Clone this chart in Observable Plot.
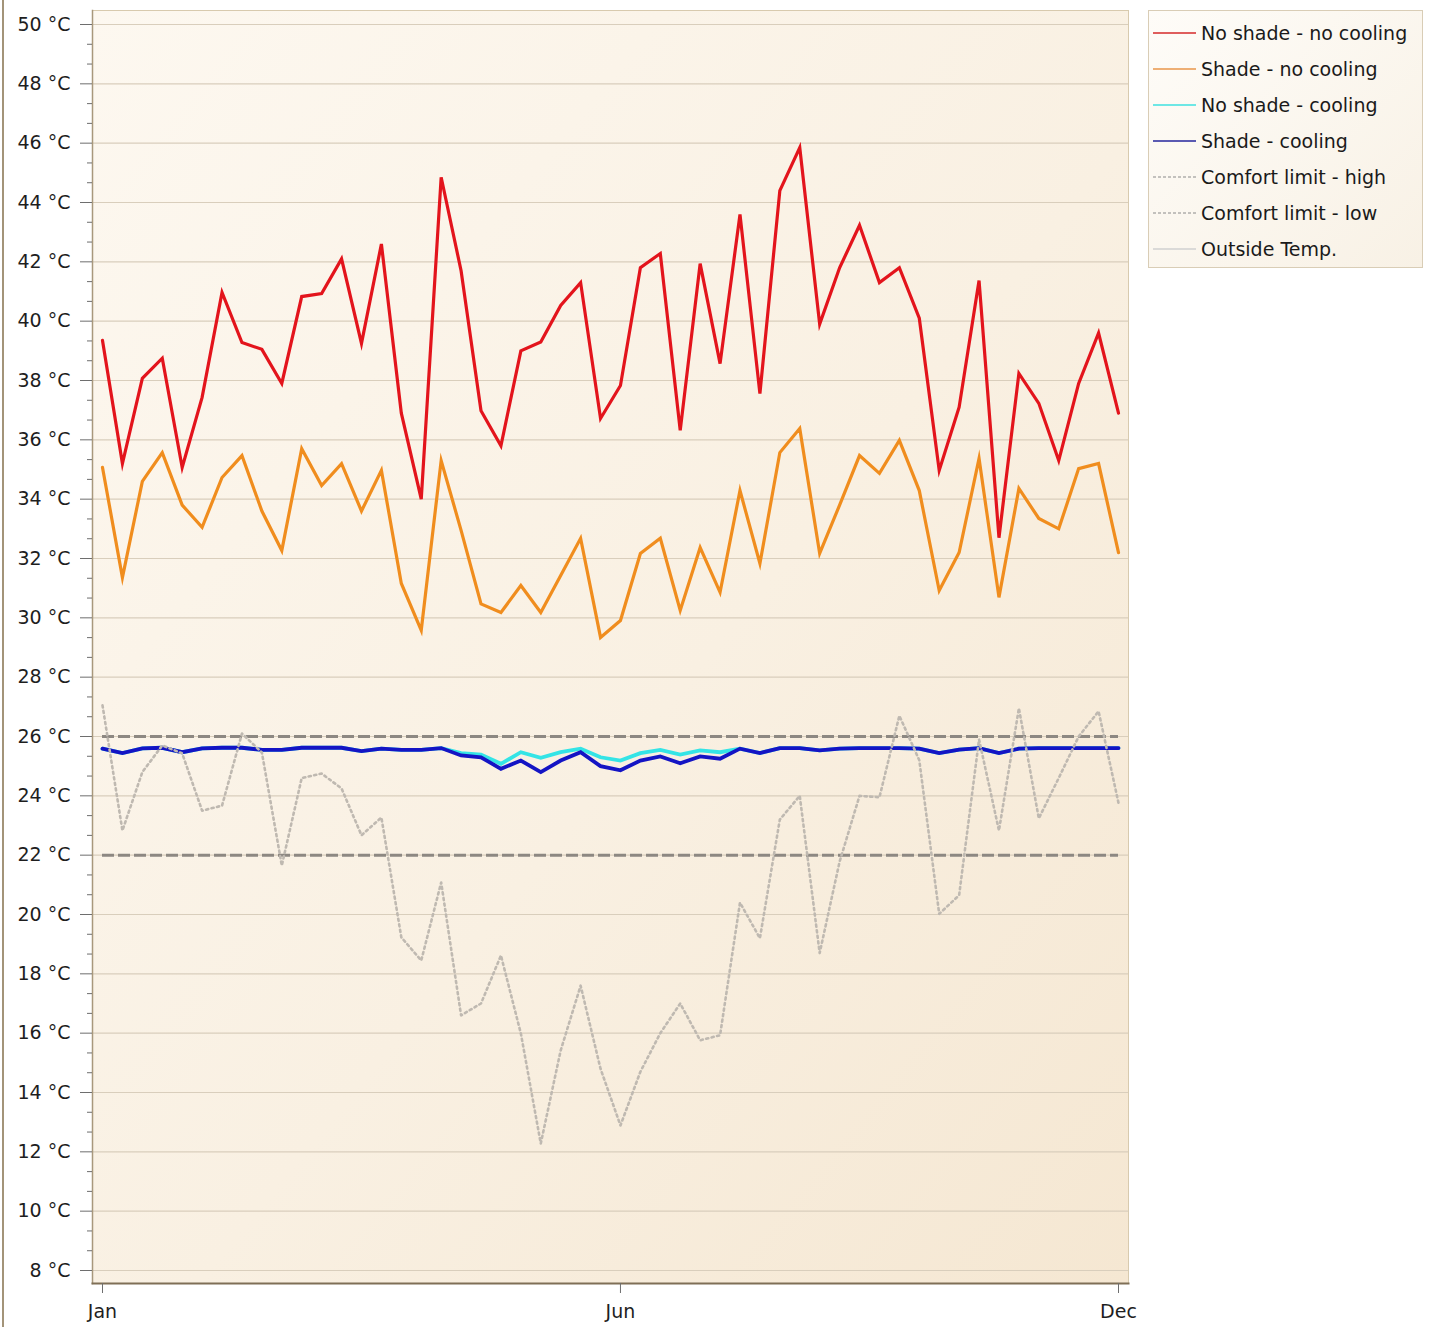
<!DOCTYPE html>
<html>
<head>
<meta charset="utf-8">
<script src="https://cdn.jsdelivr.net/npm/d3@7"></script>
<script src="https://cdn.jsdelivr.net/npm/@observablehq/plot@0.6"></script>
<style>
  html, body { margin: 0; padding: 0; background: #ffffff; }
  #wrap { position: relative; width: 1433px; height: 1327px; font-family: "DejaVu Sans", sans-serif; }
  #edge { position: absolute; left: 2px; top: 0; width: 2px; height: 1327px; background: #a39479; }
  #legend {
    position: absolute; left: 1148px; top: 10px; width: 275px; height: 258px;
    box-sizing: border-box; border: 1px solid #d9cdb6;
    background: linear-gradient(135deg, #fefcf8, #f8f1e5);
  }
  .item { position: absolute; left: 4px; height: 24px; display: flex; align-items: center;
          font-size: 19px; color: #1a1a1a; white-space: nowrap; }
  .item svg { margin-right: 5px; }
  #chart svg [aria-label="y-axis tick"], #chart svg [aria-label="x-axis tick"] { stroke: #6e6e6e; }
</style>
</head>
<body>
<div id="wrap">
  <div id="chart"></div>
  <div id="edge"></div>
  <div id="legend"></div>
</div>
<script>
// Weekly indoor temperatures over one year (52 weekly samples, °C)
const weeks = d3.range(52);

const noShadeNoCooling = [
  39.35, 35.2, 38.07, 38.75, 35.07, 37.43, 40.97, 39.28, 39.05, 37.9,
  40.83, 40.93, 42.1, 39.25, 42.6, 36.9, 34.0, 44.85, 41.7, 36.98,
  35.8, 39.0, 39.3, 40.53, 41.3, 36.72, 37.83, 41.8, 42.28, 36.32,
  41.94, 38.57, 43.6, 37.56, 44.4, 45.85, 39.9, 41.8, 43.23, 41.3,
  41.8, 40.1, 34.97, 37.1, 41.37, 32.7, 38.24, 37.23, 35.3, 37.9,
  39.6, 36.9
];

const shadeNoCooling = [
  35.07, 31.36, 34.6, 35.57, 33.8, 33.05, 34.73, 35.47, 33.6, 32.27,
  35.7, 34.46, 35.2, 33.6, 34.97, 31.16, 29.58, 35.3, 32.95, 30.47,
  30.18, 31.09, 30.18, 31.43, 32.68, 29.34, 29.91, 32.17, 32.68, 30.25,
  32.37, 30.86, 34.29, 31.83, 35.57, 36.38, 32.17, 33.8, 35.47, 34.87,
  35.98, 34.29, 30.92, 32.2, 35.37, 30.69, 34.36, 33.35, 33.0, 35.03,
  35.2, 32.2
];

const noShadeCooling = [
  25.59, 25.44, 25.6, 25.62, 25.47, 25.6, 25.62, 25.62, 25.55, 25.55,
  25.62, 25.62, 25.62, 25.51, 25.59, 25.55, 25.55, 25.61, 25.44, 25.39,
  25.08, 25.47, 25.28, 25.47, 25.59, 25.3, 25.19, 25.44, 25.55, 25.39,
  25.53, 25.47, 25.59, 25.44, 25.61, 25.61, 25.53, 25.59, 25.61, 25.61,
  25.61, 25.59, 25.44, 25.56, 25.61, 25.44, 25.59, 25.61, 25.61, 25.61,
  25.61, 25.61
];

const shadeCooling = [
  25.59, 25.44, 25.6, 25.62, 25.47, 25.6, 25.62, 25.62, 25.55, 25.55,
  25.62, 25.62, 25.62, 25.51, 25.59, 25.55, 25.55, 25.61, 25.36, 25.3,
  24.91, 25.19, 24.8, 25.19, 25.47, 25.0, 24.86, 25.19, 25.33, 25.1,
  25.33, 25.25, 25.59, 25.44, 25.61, 25.61, 25.53, 25.59, 25.61, 25.61,
  25.61, 25.59, 25.44, 25.56, 25.61, 25.44, 25.59, 25.61, 25.61, 25.61,
  25.61, 25.61
];

const outsideTemp = [
  27.05, 22.83, 24.8, 25.7, 25.43, 23.5, 23.67, 26.1, 25.46, 21.65,
  24.6, 24.75, 24.25, 22.67, 23.27, 19.23, 18.45, 21.08, 16.6, 17.0,
  18.62, 15.99, 12.28, 15.42, 17.6, 14.8, 12.89, 14.7, 16.0, 17.0,
  15.76, 15.93, 20.4, 19.2, 23.2, 24.0, 18.7, 21.78, 24.0, 23.95,
  26.7, 25.2, 20.02, 20.65, 25.9, 22.83, 26.95, 23.24, 24.6, 26.0,
  26.85, 23.76
];

const comfortHigh = 26;
const comfortLow = 22;

const monthTicks = [0, 26, 51];
const monthLabels = ["Jan", "Jun", "Dec"];

const yTicks = d3.range(8, 51, 2);
const yMinorTicks = d3.range(0, 63).filter(k => k % 3 !== 0).map(k => 8 + k * 2 / 3);

const rows = values => weeks.map((w, i) => ({week: w, value: values[i]}));

const seriesStyles = [
  {name: "No shade - no cooling", color: "#e3141c", legend: "#d42a2a", width: 3.2, type: "solid"},
  {name: "Shade - no cooling",    color: "#f08d1e", legend: "#e8964a", width: 3.2, type: "solid"},
  {name: "No shade - cooling",    color: "#34e4e6", legend: "#3ee0e0", width: 3.8, type: "solid"},
  {name: "Shade - cooling",       color: "#1414c4", legend: "#25259c", width: 3.8, type: "solid"},
  {name: "Comfort limit - high",  color: "#8d8882", legend: "#8a8a8a", width: 1,   type: "dash"},
  {name: "Comfort limit - low",   color: "#8d8882", legend: "#8a8a8a", width: 1,   type: "dash"},
  {name: "Outside Temp.",         color: "#bfb9b1", legend: "#d0d0d0", width: 1,   type: "solid"}
];

const lineOpts = (s) => ({x: "week", y: "value", stroke: s.color, strokeWidth: s.width, strokeLinejoin: "miter", strokeMiterlimit: 6});

const chart = Plot.plot({
  width: 1433,
  height: 1327,
  marginLeft: 92,
  marginRight: 305,
  marginTop: 10,
  marginBottom: 44,
  insetLeft: 10,
  insetRight: 10,
  insetTop: 14,
  insetBottom: 13,
  x: {domain: [0, 51], label: null},
  y: {domain: [8, 50], label: null},
  style: {fontFamily: "DejaVu Sans, sans-serif", fontSize: "19px", background: "transparent", color: "#1e1e1e"},
  marks: [
    Plot.frame({fill: "url(#plotBg)", stroke: "#d8caae"}),
    Plot.ruleY(yTicks, {stroke: "#d9cebc", strokeWidth: 1.2}),
    Plot.frame({anchor: "left", stroke: "#a8987c", strokeWidth: 1.5}),
    Plot.frame({anchor: "bottom", stroke: "#7f6f56", strokeWidth: 2}),
    Plot.axisY({ticks: yTicks, tickFormat: d => `${d} °C`, tickSize: 12, tickPadding: 10, label: null}),
    Plot.axisY({ticks: yMinorTicks, tickSize: 5, tickFormat: () => "", label: null}),
    Plot.axisX({ticks: monthTicks, tickFormat: d => monthLabels[monthTicks.indexOf(d)], tickSize: 10, tickPadding: 11, label: null}),
    Plot.ruleY([comfortHigh], {x1: 0, x2: 51, stroke: seriesStyles[4].color, strokeWidth: 3, strokeDasharray: "12,4"}),
    Plot.ruleY([comfortLow], {x1: 0, x2: 51, stroke: seriesStyles[5].color, strokeWidth: 3, strokeDasharray: "12,4"}),
    Plot.line(rows(noShadeCooling), lineOpts(seriesStyles[2])),
    Plot.line(rows(shadeCooling), lineOpts(seriesStyles[3])),
    Plot.line(rows(shadeNoCooling), lineOpts(seriesStyles[1])),
    Plot.line(rows(noShadeNoCooling), lineOpts(seriesStyles[0])),
    Plot.line(rows(outsideTemp), {x: "week", y: "value", stroke: seriesStyles[6].color, strokeWidth: 2.6, strokeDasharray: "2.2,3.4"})
  ]
});

// Soft cream gradient behind the plotting area
const defs = d3.select(chart).insert("defs", ":first-child");
const grad = defs.append("linearGradient").attr("id", "plotBg")
  .attr("x1", "0").attr("y1", "0").attr("x2", "1").attr("y2", "1");
grad.append("stop").attr("offset", "0%").attr("stop-color", "#fdf8f0");
grad.append("stop").attr("offset", "55%").attr("stop-color", "#f9f0e2");
grad.append("stop").attr("offset", "100%").attr("stop-color", "#f5e7d2");

document.getElementById("chart").appendChild(chart);

// Legend box with one sample line per series
const legend = d3.select("#legend");
seriesStyles.forEach((s, i) => {
  const item = legend.append("div").attr("class", "item").style("top", `${10 + i * 36}px`);
  const sw = item.append("svg").attr("width", 43).attr("height", 10);
  sw.append("line").attr("x1", 0).attr("x2", 43).attr("y1", 5).attr("y2", 5)
    .attr("stroke", s.legend).attr("stroke-width", s.type === "dash" ? 1.2 : 1.6)
    .attr("stroke-dasharray", s.type === "dash" ? "3,2" : null);
  item.append("span").text(s.name);
});
</script>
</body>
</html>
